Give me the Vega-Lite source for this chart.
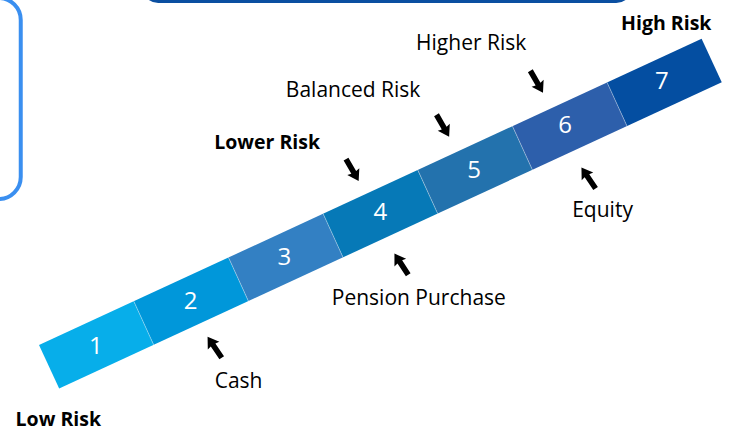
{
  "$schema": "https://vega.github.io/schema/vega-lite/v6.json",
  "width": 736,
  "height": 431,
  "autosize": {"type": "fit", "contains": "padding"},
  "padding": 0,
  "background": "white",
  "config": {"view": {"stroke": null}},
  "datasets": {
    "boxes": [
      {"box": "left", "x": -40, "x2": 21, "y": -2, "y2": 199},
      {"box": "top", "x": 146, "x2": 638, "y": -80, "y2": 1}
    ],
    "segments": [
      {"level": "1", "x": 49.7, "y": 366.8, "x2": 145.5, "y2": 323.0, "nx": 97, "ny": 347},
      {"level": "2", "x": 145.5, "y": 323.0, "x2": 241.4, "y2": 279.3, "nx": 193, "ny": 302},
      {"level": "3", "x": 241.4, "y": 279.3, "x2": 337.2, "y2": 235.5, "nx": 288, "ny": 258},
      {"level": "4", "x": 337.2, "y": 235.5, "x2": 433.0, "y2": 191.8, "nx": 385, "ny": 213},
      {"level": "5", "x": 433.0, "y": 191.8, "x2": 528.9, "y2": 148.0, "nx": 480, "ny": 171},
      {"level": "6", "x": 528.9, "y": 148.0, "x2": 624.7, "y2": 104.3, "nx": 572, "ny": 126},
      {"level": "7", "x": 624.7, "y": 104.3, "x2": 720.5, "y2": 60.5, "nx": 670, "ny": 82}
    ],
    "separators": [
      {"x": 135.5, "y": 301.2, "x2": 155.5, "y2": 344.8},
      {"x": 231.4, "y": 257.5, "x2": 251.4, "y2": 301.1},
      {"x": 327.2, "y": 213.7, "x2": 347.2, "y2": 257.3},
      {"x": 423.0, "y": 170.0, "x2": 443.0, "y2": 213.6},
      {"x": 518.9, "y": 126.2, "x2": 538.9, "y2": 169.8},
      {"x": 614.7, "y": 82.5, "x2": 634.7, "y2": 126.1}
    ],
    "arrows": [
      {"label": "Cash", "x": 217.3, "y": 347.3, "angle": 326},
      {"label": "Pension Purchase", "x": 406.3, "y": 264.2, "angle": 327},
      {"label": "Equity", "x": 595.8, "y": 178.0, "angle": 326},
      {"label": "Lower Risk", "x": 356.7, "y": 170.0, "angle": 150},
      {"label": "Balanced Risk", "x": 448.3, "y": 125.7, "angle": 150},
      {"label": "Higher Risk", "x": 543.3, "y": 81.7, "angle": 150}
    ],
    "labels": [
      {"label": "Low Risk", "x": 59, "y": 425.5, "bold": true},
      {"label": "Cash", "x": 241.5, "y": 388, "bold": false},
      {"label": "Pension Purchase", "x": 424, "y": 305, "bold": false},
      {"label": "Equity", "x": 610, "y": 216.7, "bold": false},
      {"label": "Lower Risk", "x": 270.5, "y": 148.5, "bold": true},
      {"label": "Balanced Risk", "x": 357.5, "y": 97, "bold": false},
      {"label": "Higher Risk", "x": 477, "y": 50, "bold": false},
      {"label": "High Risk", "x": 674.5, "y": 30, "bold": true}
    ]
  },
  "encoding": {
    "x": {"field": "x", "type": "quantitative", "scale": {"domain": [0, 736], "nice": false, "zero": false}, "axis": null},
    "y": {"field": "y", "type": "quantitative", "scale": {"domain": [0, 431], "nice": false, "zero": false, "reverse": true}, "axis": null}
  },
  "layer": [
    {
      "data": {"name": "boxes"},
      "transform": [{"filter": "datum.box === 'left'"}],
      "mark": {"type": "rect", "filled": false, "stroke": "#3a8ff0", "strokeWidth": 4, "cornerRadius": 22, "clip": true, "fill": null},
      "encoding": {"x2": {"field": "x2"}, "y2": {"field": "y2"}}
    },
    {
      "data": {"name": "boxes"},
      "transform": [{"filter": "datum.box === 'top'"}],
      "mark": {"type": "rect", "filled": false, "stroke": "#0b4fa1", "strokeWidth": 4, "cornerRadius": 14, "clip": true, "fill": null},
      "encoding": {"x2": {"field": "x2"}, "y2": {"field": "y2"}}
    },
    {
      "data": {"name": "segments"},
      "mark": {"type": "rule", "strokeWidth": 48, "strokeCap": "butt"},
      "encoding": {
        "x2": {"field": "x2"},
        "y2": {"field": "y2"},
        "color": {
          "field": "level", "type": "nominal", "legend": null,
          "scale": {"domain": ["1", "2", "3", "4", "5", "6", "7"], "range": ["#07aeea", "#0097da", "#3380c3", "#0679b7", "#2372ad", "#2d5fab", "#044ea1"]}
        }
      }
    },
    {
      "data": {"name": "separators"},
      "mark": {"type": "rule", "stroke": "#ffffff", "strokeOpacity": 0.35, "strokeWidth": 1},
      "encoding": {"x2": {"field": "x2"}, "y2": {"field": "y2"}}
    },
    {
      "data": {"name": "segments"},
      "mark": {"type": "text", "color": "white", "fontSize": 24, "font": "Open Sans", "align": "center", "baseline": "middle"},
      "encoding": {
        "x": {"field": "nx", "type": "quantitative"},
        "y": {"field": "ny", "type": "quantitative"},
        "text": {"field": "level"}
      }
    },
    {
      "data": {"name": "arrows"},
      "mark": {"type": "point", "filled": true, "color": "black", "opacity": 1, "strokeWidth": 0,
        "shape": "M0,-1L0.55,-0.15L0.22,-0.22L0.22,1L-0.22,1L-0.22,-0.22L-0.55,-0.15Z", "size": 640},
      "encoding": {"angle": {"field": "angle", "type": "quantitative", "scale": null}}
    },
    {
      "data": {"name": "labels"},
      "transform": [{"filter": "!datum.bold"}],
      "mark": {"type": "text", "color": "black", "fontSize": 21, "font": "Open Sans", "align": "center", "baseline": "alphabetic"},
      "encoding": {"text": {"field": "label"}}
    },
    {
      "data": {"name": "labels"},
      "transform": [{"filter": "datum.bold"}],
      "mark": {"type": "text", "color": "black", "fontSize": 19.5, "fontWeight": "bold", "font": "Open Sans", "align": "center", "baseline": "alphabetic"},
      "encoding": {"text": {"field": "label"}}
    }
  ]
}
